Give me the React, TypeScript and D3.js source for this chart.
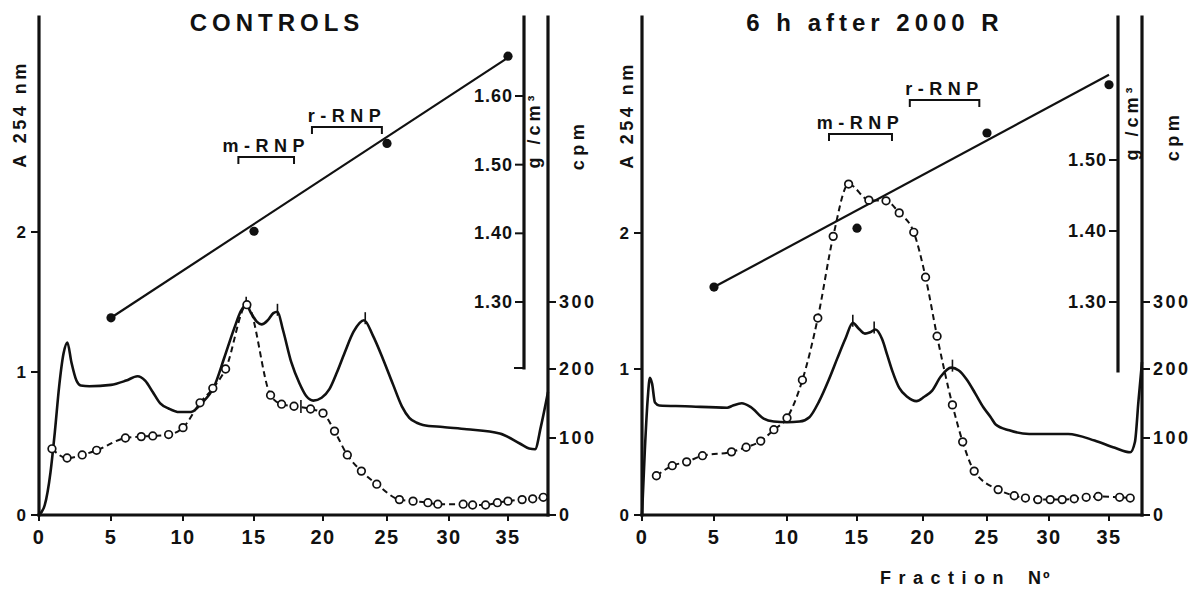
import React from 'react';
import * as d3 from 'd3';

// ---------------- data ----------------
const fractionTicks = [0, 5, 10, 15, 20, 25, 30, 35];
const absorbanceTicks = [0, 1, 2];
const cpmTicks = [0, 100, 200, 300];
const densityTicksControls = [1.3, 1.4, 1.5, 1.6];
const densityTicksIrradiated = [1.3, 1.4, 1.5];

// CONTROLS – A 254 nm profile
const controlsAbsFraction = [0, 0.4, 0.8, 1.1, 1.4, 1.7, 1.97, 2.25, 2.6, 2.9, 3.5, 5.0, 6.05, 6.84, 7.37, 7.9, 8.42, 9.0, 9.74, 10.56, 11.3, 12.2, 12.9, 13.6, 14.1, 14.44, 14.8, 15.2, 15.55, 16.0, 16.4, 16.7, 17.1, 17.7, 18.3, 18.8, 19.3, 19.9, 20.5, 21.1, 21.7, 22.4, 23.2, 23.9, 24.7, 25.5, 26.2, 26.8, 27.4, 27.9, 29.5, 31.5, 34.3, 36.0, 36.8, 37.3, 37.8, 38.4];
const controlsAbsValue = [0, 0.07, 0.3, 0.58, 0.9, 1.13, 1.21, 1.07, 0.94, 0.905, 0.9, 0.91, 0.94, 0.97, 0.94, 0.86, 0.78, 0.745, 0.72, 0.72, 0.78, 0.9, 1.1, 1.31, 1.44, 1.48, 1.42, 1.36, 1.34, 1.37, 1.42, 1.43, 1.3, 1.07, 0.92, 0.83, 0.8, 0.82, 0.88, 1.0, 1.14, 1.29, 1.37, 1.26, 1.09, 0.91, 0.76, 0.68, 0.645, 0.63, 0.615, 0.6, 0.57, 0.5, 0.465, 0.46, 0.62, 0.86];

// CONTROLS – radioactivity (cpm)
const controlsCpmFraction = [0.9, 1.95, 3.0, 4.0, 6.0, 7.1, 7.9, 9.0, 10.0, 11.2, 12.1, 13.0, 14.5, 16.2, 17.0, 17.9, 19.1, 20.0, 20.9, 21.9, 23.0, 24.2, 26.0, 27.1, 28.3, 29.1, 31.2, 32.0, 33.1, 34.1, 35.0, 36.2, 37.1, 38.0];
const controlsCpmValue = [86, 74, 78, 84, 100, 102, 103, 105, 115, 151, 172, 200, 296, 162, 149, 146, 142, 136, 110, 78, 57, 40, 20, 18, 16, 14, 14, 13, 13, 16, 18, 20, 21, 23];

// CONTROLS – density (g/cm3)
const densityFraction = [5, 15, 25, 35];
const controlsDensity = [1.277, 1.403, 1.531, 1.658];
const densityFitFraction = [5, 35];
const controlsDensityFit = [1.277, 1.656];

// CONTROLS – peak markers
const controlsAbsMarkFraction = [14.45, 16.7, 23.3];
const controlsAbsMarkValue = [1.48, 1.43, 1.37];
const controlsCpmMarkFraction = [18.4];
const controlsCpmMarkValue = [145];

// CONTROLS – pooled regions
const regionNames = ['m-RNP', 'r-RNP'];
const controlsRegionFrom = [13.9, 19.2];
const controlsRegionTo = [17.9, 24.6];

// 6 h after 2000 R – A 254 nm profile
const irrAbsFraction = [0, 0.2, 0.4, 0.55, 0.7, 0.9, 1.2, 3.0, 5.9, 6.3, 6.9, 7.5, 8.4, 9.1, 10.0, 10.9, 11.6, 12.3, 13.0, 13.6, 14.2, 14.7, 15.1, 15.6, 16.0, 16.4, 16.9, 17.3, 17.7, 18.2, 18.8, 19.5, 20.1, 20.7, 21.4, 22.2, 22.8, 23.4, 24.1, 24.7, 25.3, 25.7, 26.8, 28.4, 31.6, 33.8, 35.5, 36.8, 37.2, 37.5, 37.8];
const irrAbsValue = [0, 0.45, 0.8, 0.94, 0.9, 0.77, 0.75, 0.745, 0.735, 0.75, 0.765, 0.74, 0.66, 0.64, 0.635, 0.64, 0.67, 0.78, 0.93, 1.08, 1.23, 1.34, 1.3, 1.26, 1.27, 1.29, 1.22, 1.1, 0.98, 0.87, 0.81, 0.78, 0.81, 0.85, 0.95, 1.01, 0.99, 0.93, 0.83, 0.74, 0.67, 0.62, 0.58, 0.555, 0.555, 0.51, 0.46, 0.43, 0.5, 0.78, 1.05];

// 6 h after 2000 R – radioactivity (cpm)
const irrCpmFraction = [1.0, 2.1, 3.1, 4.2, 6.2, 7.2, 8.2, 9.1, 10.0, 11.1, 12.2, 13.3, 14.4, 15.9, 17.2, 18.2, 19.3, 20.2, 21.1, 22.3, 23.1, 24.0, 25.9, 27.2, 28.1, 29.1, 30.1, 31.1, 32.1, 33.1, 34.1, 35.9, 36.8];
const irrCpmValue = [51, 64, 69, 77, 82, 88, 96, 112, 129, 184, 276, 398, 476, 452, 451, 433, 404, 337, 249, 148, 95, 57, 33, 25, 22, 20, 20, 20, 21, 23, 24, 23, 22];

// 6 h after 2000 R – density
const irrDensity = [1.321, 1.404, 1.538, 1.606];
const irrDensityFit = [1.321, 1.62];

// 6 h after 2000 R – peak markers
const irrAbsMarkFraction = [14.7, 16.3, 22.3];
const irrAbsMarkValue = [1.34, 1.29, 1.01];

// 6 h after 2000 R – pooled regions
const irrRegionFrom = [13.0, 19.0];
const irrRegionTo = [17.65, 24.4];

// ---------------- drawing ----------------
const FONT = '"Liberation Sans", Arial, Helvetica, sans-serif';
const INK = '#111';

type PanelProps = {
  title: string;
  titleX: number;
  xDomain: number[];
  xRange: number[];
  yAbsRange: number[];
  densDomain: number[];
  densRange: number[];
  densTicks: number[];
  densAxisX: number;
  densAxisBottom: number;
  densFoot: boolean;
  absF: number[];
  absV: number[];
  cpmF: number[];
  cpmV: number[];
  dens: number[];
  densFit: number[];
  absMarkF: number[];
  absMarkV: number[];
  cpmMarkF: number[];
  cpmMarkV: number[];
  regionFrom: number[];
  regionTo: number[];
  regionY: number[];
  labelA: [number, number];
  labelG: [number, number];
  labelC: [number, number];
};

function Panel(p: PanelProps) {
  const x = d3.scaleLinear().domain(p.xDomain).range(p.xRange);
  const yA = d3.scaleLinear().domain(absorbanceTicks).range(p.yAbsRange);
  const yC = d3.scaleLinear().domain(cpmTicks).range([515, 438, 369, 302]);
  const yD = d3.scaleLinear().domain(p.densDomain).range(p.densRange);
  const top = 17;
  const base = 515;
  const x0 = x(0);
  const xEnd = x(p.xDomain[p.xDomain.length - 1]);

  const absPts: [number, number][] = p.absF.map((f, i) => [x(f), yA(p.absV[i])]);
  const cpmPts: [number, number][] = p.cpmF.map((f, i) => [x(f), yC(p.cpmV[i])]);
  const fitPts: [number, number][] = densityFitFraction.map((f, i) => [x(f), yD(p.densFit[i])]);
  const smooth = d3.line().curve(d3.curveMonotoneX);
  const straight = d3.line();
  const fmtD = d3.format('.2f');

  return (
    <g fontFamily={FONT} fill={INK}>
      {/* title */}
      <text x={p.titleX} y={31} fontSize={24} fontWeight="bold" letterSpacing={5} textAnchor="middle">
        {p.title}
      </text>

      {/* axes */}
      <g stroke={INK} strokeWidth={3.2} fill="none" strokeLinecap="square">
        <line x1={x0} y1={top} x2={x0} y2={base} />
        <line x1={x0} y1={base} x2={xEnd} y2={base} />
        <line x1={xEnd} y1={top} x2={xEnd} y2={base} />
        <line x1={p.densAxisX} y1={top} x2={p.densAxisX} y2={p.densAxisBottom} />
        {p.densFoot && (
          <line x1={p.densAxisX - 9} y1={p.densAxisBottom} x2={p.densAxisX} y2={p.densAxisBottom} strokeWidth={2} />
        )}
      </g>

      {/* x ticks */}
      {fractionTicks.map((t) => (
        <g key={'xt' + t}>
          <line x1={x(t)} y1={base} x2={x(t)} y2={base + 6} stroke={INK} strokeWidth={2} />
          <text x={x(t)} y={544} fontSize={20} fontWeight="bold" letterSpacing={1.5} textAnchor="middle">
            {t}
          </text>
        </g>
      ))}

      {/* A254 ticks */}
      {absorbanceTicks.map((t) => (
        <g key={'ya' + t}>
          <line x1={x0 - 8} y1={yA(t)} x2={x0} y2={yA(t)} stroke={INK} strokeWidth={2} />
          <text x={x0 - 13} y={yA(t)} fontSize={17} fontWeight="bold" textAnchor="end" dominantBaseline="central">
            {t}
          </text>
        </g>
      ))}

      {/* density ticks */}
      {p.densTicks.map((t) => (
        <g key={'yd' + t}>
          <line x1={p.densAxisX - 9} y1={yD(t)} x2={p.densAxisX} y2={yD(t)} stroke={INK} strokeWidth={2} />
          <text x={p.densAxisX - 11} y={yD(t)} fontSize={18} fontWeight="bold" letterSpacing={1} textAnchor="end" dominantBaseline="central">
            {fmtD(t)}
          </text>
        </g>
      ))}

      {/* cpm ticks */}
      {cpmTicks.map((t) => (
        <g key={'yc' + t}>
          <line x1={xEnd} y1={yC(t)} x2={xEnd + 8} y2={yC(t)} stroke={INK} strokeWidth={2} />
          <text x={xEnd + 11} y={yC(t)} fontSize={18} fontWeight="bold" letterSpacing={2.5} dominantBaseline="central">
            {t}
          </text>
        </g>
      ))}

      {/* axis titles */}
      <text transform={`translate(${p.labelA[0]},${p.labelA[1]}) rotate(-90)`} fontSize={18} fontWeight="bold" letterSpacing={3.5} textAnchor="middle" dominantBaseline="central">
        A 254 nm
      </text>
      <text transform={`translate(${p.labelG[0]},${p.labelG[1]}) rotate(-90)`} fontSize={18} fontWeight="bold" letterSpacing={4} textAnchor="middle" dominantBaseline="central">
        g /cm³
      </text>
      <text transform={`translate(${p.labelC[0]},${p.labelC[1]}) rotate(-90)`} fontSize={18} fontWeight="bold" letterSpacing={4.5} textAnchor="middle" dominantBaseline="central">
        cpm
      </text>

      {/* regions */}
      {regionNames.map((n, i) => {
        const a = x(p.regionFrom[i]);
        const b = x(p.regionTo[i]);
        const yy = p.regionY[i];
        return (
          <g key={'r' + n}>
            <path d={`M${a},${yy + 7}V${yy}H${b}V${yy + 7}`} stroke={INK} strokeWidth={2} fill="none" />
            <text x={(a + b) / 2} y={yy - 5} fontSize={18} fontWeight="bold" letterSpacing={5.5} textAnchor="middle">
              {n}
            </text>
          </g>
        );
      })}

      {/* density fit line and points */}
      <path d={straight(fitPts) || ''} stroke={INK} strokeWidth={2.2} fill="none" />
      {densityFraction.map((f, i) => (
        <circle key={'d' + i} cx={x(f)} cy={yD(p.dens[i])} r={4.6} fill={INK} />
      ))}

      {/* A254 profile */}
      <path d={smooth(absPts) || ''} stroke={INK} strokeWidth={2.6} fill="none" strokeLinejoin="round" />
      {p.absMarkF.map((f, i) => (
        <line key={'am' + i} x1={x(f)} y1={yA(p.absMarkV[i]) - 8} x2={x(f)} y2={yA(p.absMarkV[i]) + 4} stroke={INK} strokeWidth={1.6} />
      ))}

      {/* cpm profile */}
      <path d={smooth(cpmPts) || ''} stroke={INK} strokeWidth={2} strokeDasharray="6 4" fill="none" />
      {p.cpmMarkF.map((f, i) => (
        <line key={'cm' + i} x1={x(f)} y1={yC(p.cpmMarkV[i]) - 7} x2={x(f)} y2={yC(p.cpmMarkV[i]) + 6} stroke={INK} strokeWidth={1.6} />
      ))}
      {p.cpmF.map((f, i) => (
        <circle key={'c' + i} cx={x(f)} cy={yC(p.cpmV[i])} r={3.8} fill="#fff" stroke={INK} strokeWidth={1.7} />
      ))}
    </g>
  );
}

export default function App() {
  return (
    <svg width={1196} height={592} viewBox="0 0 1196 592" style={{ position: 'absolute', left: 0, top: 0, background: '#fff' }}>
      <rect x={0} y={0} width={1196} height={592} fill="#fff" />
      <Panel
        title="CONTROLS"
        titleX={277}
        xDomain={[0, 5, 10, 15, 20, 25, 30, 35, 38.4]}
        xRange={[39, 111, 183, 254, 323, 387, 449, 508, 548]}
        yAbsRange={[515, 372, 232]}
        densDomain={[1.3, 1.6]}
        densRange={[302, 96]}
        densTicks={densityTicksControls}
        densAxisX={524}
        densAxisBottom={368}
        densFoot={true}
        absF={controlsAbsFraction}
        absV={controlsAbsValue}
        cpmF={controlsCpmFraction}
        cpmV={controlsCpmValue}
        dens={controlsDensity}
        densFit={controlsDensityFit}
        absMarkF={controlsAbsMarkFraction}
        absMarkV={controlsAbsMarkValue}
        cpmMarkF={controlsCpmMarkFraction}
        cpmMarkV={controlsCpmMarkValue}
        regionFrom={controlsRegionFrom}
        regionTo={controlsRegionTo}
        regionY={[157, 127]}
        labelA={[20, 114]}
        labelG={[534, 130]}
        labelC={[578, 145]}
      />
      <Panel
        title="6 h after 2000 R"
        titleX={875}
        xDomain={[0, 5, 10, 15, 20, 25, 30, 35, 37.8]}
        xRange={[642, 714, 787, 857, 923, 987, 1049, 1109, 1142]}
        yAbsRange={[515, 369, 233]}
        densDomain={[1.3, 1.5]}
        densRange={[302, 160]}
        densTicks={densityTicksIrradiated}
        densAxisX={1118}
        densAxisBottom={371}
        densFoot={false}
        absF={irrAbsFraction}
        absV={irrAbsValue}
        cpmF={irrCpmFraction}
        cpmV={irrCpmValue}
        dens={irrDensity}
        densFit={irrDensityFit}
        absMarkF={irrAbsMarkFraction}
        absMarkV={irrAbsMarkValue}
        cpmMarkF={[]}
        cpmMarkV={[]}
        regionFrom={irrRegionFrom}
        regionTo={irrRegionTo}
        regionY={[134, 100]}
        labelA={[627, 115]}
        labelG={[1132, 122]}
        labelC={[1173, 136]}
      />
      <g fontFamily={FONT} fill={INK} fontSize={18} fontWeight="bold">
        <text x={880} y={584} letterSpacing={7.5}>Fraction</text>
        <text x={1028} y={584} letterSpacing={2}>Nº</text>
      </g>
    </svg>
  );
}
